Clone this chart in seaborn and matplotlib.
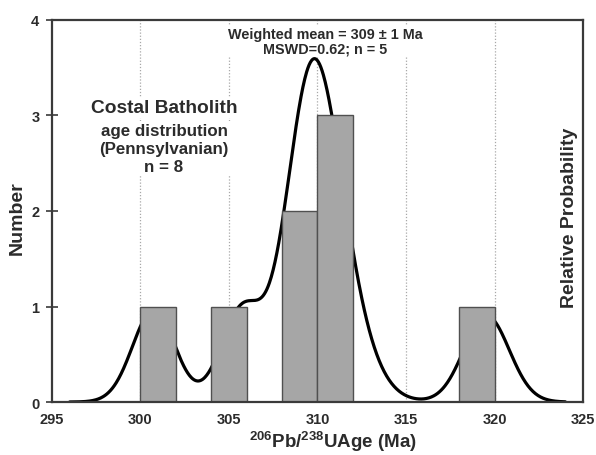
import numpy as np
import pandas as pd
import matplotlib
matplotlib.use("Agg")
import matplotlib.pyplot as plt
from matplotlib.ticker import MultipleLocator
import seaborn as sns

# Zircon 206Pb/238U ages (Ma) with 1-sigma uncertainties
ages = [300.75, 305.75, 309.0, 309.5, 310.05, 310.5, 311.2, 319.55]
sigmas = [1.2, 1.2, 1.3, 1.3, 1.4, 1.5, 1.7, 1.28]

x_ticks = [295, 300, 305, 310, 315, 320, 325]
y_ticks = [0, 1, 2, 3, 4]
grid_ticks = [300, 305, 310, 315, 320]

title_text = "Costal Batholith"
subtitle_lines = ["age distribution", "(Pennsylvanian)", "n = 8"]
mean_lines = ["Weighted mean = 309 \u00b1 1 Ma", "MSWD=0.62; n = 5"]

sns.set_style("white")
plt.rcParams["font.family"] = ["Liberation Sans", "DejaVu Sans"]
plt.rcParams["font.weight"] = "bold"
plt.rcParams["mathtext.fontset"] = "custom"
plt.rcParams["mathtext.rm"] = "Liberation Sans:bold"
plt.rcParams["mathtext.default"] = "rm"

ink = "#2b2b2b"
spine_col = "#3a3a3a"

fig = plt.figure(figsize=(5.96, 4.56), dpi=100)
ax = fig.add_axes([0.0872, 0.1162, 0.891, 0.8378])
ax2 = ax.twinx()

# Cumulative probability curve: sum of normal densities of each grain age
t = np.linspace(296, 324, 800)
dens = np.zeros_like(t)
for a, s in zip(ages, sigmas):
    dens += np.exp(-0.5 * ((t - a) / s) ** 2) / (s * np.sqrt(2 * np.pi))
curve = pd.DataFrame({"age": t, "prob": dens})

for g in grid_ticks:
    ax2.axvline(g, color="#a8a8a8", lw=0.9, ls=(0, (1, 1.5)), zorder=0)
sns.lineplot(data=curve, x="age", y="prob", ax=ax2, color="black", lw=2.3, zorder=1)
ax2.set_ylim(0, 1.38)
ax2.set_yticks([])
ax2.set_ylabel("Relative Probability", fontsize=14, fontweight="bold", color=ink)
ax2.yaxis.set_label_coords(0.958, 0.484)
for sp in ax2.spines.values():
    sp.set_visible(False)

# Histogram of ages in 2 Ma bins, drawn above the curve
ax.set_zorder(ax2.get_zorder() + 1)
ax.patch.set_visible(False)
sns.histplot(x=ages, binwidth=2, binrange=(300, 320), ax=ax,
             color="#a6a6a6", edgecolor="#505050", linewidth=1.0, alpha=1)

ax.set_xlim(295, 325)
ax.set_ylim(0, 4)
ax.set_xticks(x_ticks)
ax.set_yticks(y_ticks)
ax.xaxis.set_minor_locator(MultipleLocator(1))
ax.tick_params(axis="x", which="major", direction="in", length=5, width=1.2,
               pad=7, labelsize=10.5, colors=spine_col, labelcolor=ink)
ax.tick_params(axis="x", which="minor", direction="in", length=3.5, width=1,
               colors=spine_col)
ax.tick_params(axis="y", which="major", direction="inout", length=8, width=1.2,
               pad=5, labelsize=10.5, colors=spine_col, labelcolor=ink)
for lab in ax.get_xticklabels() + ax.get_yticklabels():
    lab.set_fontweight("bold")

for sp in ax.spines.values():
    sp.set_visible(True)
    sp.set_linewidth(1.6)
    sp.set_color(spine_col)

ax.set_ylabel("Number", fontsize=14, fontweight="bold", color=ink)
ax.yaxis.set_label_coords(-0.05, 0.484)
ax.set_xlabel(r"$^{206}$Pb/$^{238}$UAge (Ma)", fontsize=13.5, fontweight="bold", color=ink)
ax.xaxis.set_label_coords(0.529, -0.07)

box = dict(facecolor="white", edgecolor="none", pad=1.5)
ax.text(301.33, 3.08, title_text, ha="center", va="center", fontsize=13.8,
        fontweight="bold", color=ink, bbox=box, zorder=5)
ax.text(301.33, 2.65, "\n".join(subtitle_lines), ha="center", va="center",
        fontsize=12.2, fontweight="bold", color=ink, linespacing=1.25,
        bbox=box, zorder=5)
ax.text(310.42, 3.78, "\n".join(mean_lines), ha="center", va="center",
        fontsize=10.4, fontweight="bold", color=ink, linespacing=1.05,
        bbox=dict(facecolor="white", edgecolor="none", pad=0.5), zorder=5)

fig.savefig("out.png", dpi=100, facecolor="white")
